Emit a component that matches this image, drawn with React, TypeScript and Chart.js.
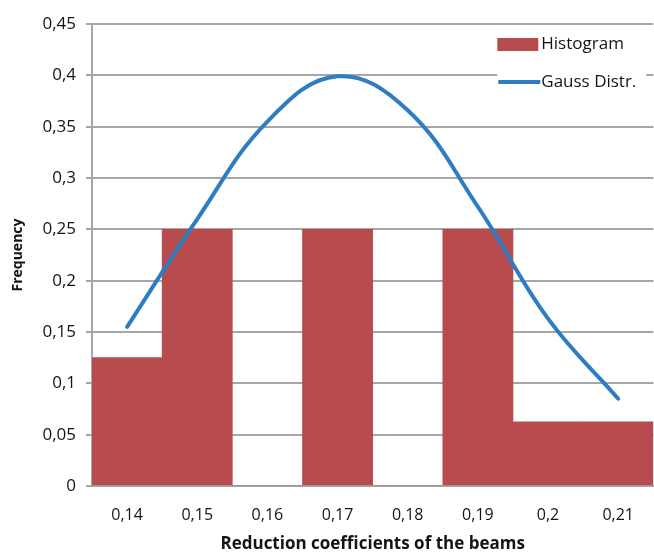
import React, { useEffect, useRef } from "react";
import { Chart, registerables } from "chart.js";

Chart.register(...registerables);

// Bin centres of the reduction coefficients
const categories = ["0,14", "0,15", "0,16", "0,17", "0,18", "0,19", "0,2", "0,21"];
// Relative frequency of each bin
const histogramValues = [0.125, 0.25, 0, 0.25, 0, 0.25, 0.0625, 0.0625];
// Fitted normal density sampled at the bin centres
const gaussValues = [0.155, 0.26, 0.355, 0.399, 0.366, 0.272, 0.163, 0.085];

const BAR_COLOR = "#B84B4E";
const LINE_COLOR = "#2E7DC2";
const GRID_COLOR = "#A6A6A6";
const TEXT_COLOR = "#141414";
const FONT = "'Open Sans', 'DejaVu Sans', sans-serif";

// Legend box drawn inside the plot area, top right
const legendPlugin = {
  id: "innerLegend",
  afterDatasetsDraw(chart: any) {
    const ctx = chart.ctx;
    const area = chart.chartArea;
    const x0 = area.right - 156;
    const y0 = area.top + 6;
    ctx.save();
    ctx.fillStyle = "#ffffff";
    ctx.fillRect(x0, y0, 149, 70);
    // Histogram swatch
    ctx.fillStyle = BAR_COLOR;
    ctx.fillRect(x0, y0 + 8, 41, 13);
    // Gauss line swatch
    ctx.strokeStyle = LINE_COLOR;
    ctx.lineWidth = 4;
    ctx.beginPath();
    ctx.moveTo(x0 + 1, y0 + 52);
    ctx.lineTo(x0 + 43, y0 + 52);
    ctx.stroke();
    ctx.fillStyle = TEXT_COLOR;
    ctx.font = `17px ${FONT}`;
    ctx.textBaseline = "middle";
    ctx.textAlign = "left";
    ctx.fillText(chart.data.datasets[1].label, x0 + 44, y0 + 14);
    ctx.fillText(chart.data.datasets[0].label, x0 + 44, y0 + 52);
    ctx.restore();
  },
};

export default function App() {
  const canvasRef = useRef<HTMLCanvasElement | null>(null);

  useEffect(() => {
    const canvas = canvasRef.current;
    if (!canvas) return;
    const chart = new Chart(canvas, {
      type: "bar",
      data: {
        labels: categories,
        datasets: [
          {
            type: "line",
            label: "Gauss Distr.",
            data: gaussValues,
            borderColor: LINE_COLOR,
            borderWidth: 4,
            borderCapStyle: "round",
            pointRadius: 0,
            tension: 0.4,
            fill: false,
            order: 0,
          } as any,
          {
            type: "bar",
            label: "Histogram",
            data: histogramValues,
            backgroundColor: BAR_COLOR,
            borderWidth: 0,
            categoryPercentage: 1,
            barPercentage: 1,
            order: 1,
          },
        ],
      },
      options: {
        animation: false,
        responsive: false,
        maintainAspectRatio: false,
        layout: { padding: { top: 24, right: 0, left: 0, bottom: 0 } },
        plugins: {
          legend: { display: false },
          tooltip: { enabled: false },
        },
        scales: {
          x: {
            grid: { display: false, drawTicks: false },
            border: { display: true, color: GRID_COLOR, width: 2 },
            ticks: {
              color: TEXT_COLOR,
              font: { family: FONT, size: 16 },
              padding: 20,
              maxRotation: 0,
            },
            title: {
              display: true,
              text: "Reduction coefficients of the beams",
              color: TEXT_COLOR,
              font: { family: FONT, size: 17, weight: "bold" },
              padding: { top: 2, bottom: 0 },
            },
            afterFit(scale: any) {
              scale.height = 68;
            },
          },
          y: {
            min: 0,
            max: 0.45,
            grid: {
              color: GRID_COLOR,
              lineWidth: 2,
              tickLength: 6,
              drawTicks: true,
            },
            border: { display: true, color: GRID_COLOR, width: 2 },
            ticks: {
              stepSize: 0.05,
              color: TEXT_COLOR,
              font: { family: FONT, size: 17 },
              padding: 10,
              callback: (v: any) =>
                String(Math.round(Number(v) * 100) / 100).replace(".", ","),
            },
            title: {
              display: true,
              text: "Frequency",
              color: TEXT_COLOR,
              font: { family: FONT, size: 14, weight: "bold" },
              padding: { top: 10, bottom: 0 },
            },
            afterFit(scale: any) {
              scale.width = 92;
            },
          },
        },
      },
      plugins: [legendPlugin],
    });
    return () => chart.destroy();
  }, []);

  return (
    <div style={{ position: "absolute", left: 0, top: 0, width: 654, height: 554, background: "#fff" }}>
      <canvas ref={canvasRef} width={654} height={554} />
    </div>
  );
}
